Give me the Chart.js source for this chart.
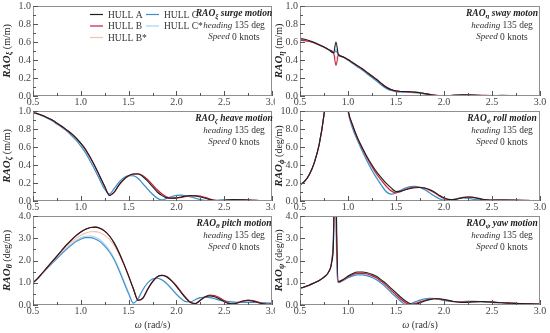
<!DOCTYPE html>
<html>
<head>
<meta charset="utf-8">
<script src="https://cdn.jsdelivr.net/npm/chart.js@4/dist/chart.umd.min.js"></script>
<style>
  body { margin: 0; background: #fff; width: 550px; height: 333px; position: relative; overflow: hidden; }
  canvas { position: absolute; }
</style>
</head>
<body>
<script>
const SERIF = '"Liberation Serif", "Times New Roman", serif';

const hullNames = ['HULL A', 'HULL B', 'HULL B*', 'HULL C', 'HULL C*'];
const hullColors = ['#1f1f1f', '#c3213d', '#f5c2a6', '#3f8fca', '#a7d2ee'];

// frequency grids (rad/s)
const omegaStd = [0.5,0.55,0.6,0.65,0.7,0.75,0.8,0.85,0.9,0.95,1.0,1.05,1.1,1.15,1.2,1.25,1.3,1.35,1.4,1.45,1.5,1.55,1.6,1.65,1.7,1.75,1.8,1.85,1.9,1.95,2.0,2.05,2.1,2.15,2.2,2.25,2.3,2.35,2.4,2.45,2.5,2.55,2.6,2.65,2.7,2.75,2.8,2.85,2.9,2.95,3.0];
const omegaSway = [0.5,0.55,0.6,0.65,0.7,0.75,0.8,0.85,0.875,0.9,0.95,1.0,1.05,1.1,1.15,1.2,1.25,1.3,1.35,1.4,1.45,1.5,1.55,1.6,1.65,1.7,1.75,1.8,1.85,1.9,1.95,2.0,2.1,2.2,2.3,2.4,2.5,2.6,2.7,2.8,2.9,3.0];
const omegaYaw = [0.5,0.55,0.6,0.65,0.7,0.75,0.8,0.83,0.85,0.86,0.87,0.88,0.9,0.95,1.0,1.05,1.1,1.15,1.2,1.25,1.3,1.35,1.4,1.45,1.5,1.55,1.6,1.65,1.7,1.75,1.8,1.85,1.9,1.95,2.0,2.1,2.2,2.3,2.4,2.5,2.6,2.7,2.8,2.9,3.0];

// surge panel shows no curves
const surgeOmega = [];
const surgeSeries = [[], [], [], [], []];

// sway RAO (m/m)
const swayA = [.64,.63,.615,.595,.57,.545,.515,.48,.60,.46,.435,.405,.37,.335,.3,.26,.22,.18,.135,.095,.07,.055,.05,.05,.047,.043,.037,.027,.017,.009,.005,.004,.008,.012,.01,.006,.005,.007,.006,.004,.003,.003];
const swayB = [.62,.615,.605,.59,.568,.543,.513,.478,.34,.455,.433,.403,.37,.337,.302,.263,.224,.184,.14,.1,.073,.057,.05,.048,.045,.042,.036,.028,.019,.011,.006,.004,.007,.011,.01,.007,.005,.006,.006,.004,.003,.003];
const swayBs = [.625,.618,.607,.591,.569,.544,.514,.479,.42,.457,.434,.404,.37,.336,.301,.262,.223,.182,.138,.098,.072,.056,.05,.049,.046,.042,.036,.028,.018,.01,.005,.004,.007,.011,.01,.007,.005,.006,.006,.004,.003,.003];
const swayC = [.63,.62,.607,.59,.567,.542,.512,.477,.5,.455,.43,.398,.36,.323,.287,.245,.205,.163,.12,.083,.06,.048,.044,.043,.04,.036,.03,.021,.012,.006,.003,.003,.007,.01,.008,.005,.004,.006,.005,.003,.002,.002];
const swayCs = [.632,.622,.609,.592,.569,.544,.514,.478,.52,.456,.431,.4,.363,.326,.29,.249,.209,.167,.124,.086,.062,.05,.045,.044,.041,.037,.031,.022,.013,.007,.003,.003,.007,.01,.008,.005,.004,.006,.005,.003,.002,.002];

// heave RAO (m/m)
const heaveA = [.98,.97,.95,.925,.9,.865,.83,.79,.75,.7,.64,.57,.48,.38,.27,.16,.06,.1,.18,.24,.28,.3,.3,.27,.22,.16,.1,.06,.035,.03,.035,.045,.055,.06,.055,.045,.03,.015,.006,.004,.008,.012,.015,.014,.012,.01,.008,.006,.005,.004,.003];
const heaveB = [.98,.97,.95,.925,.9,.866,.831,.792,.752,.702,.643,.573,.484,.384,.275,.165,.065,.098,.178,.238,.279,.3,.302,.282,.238,.182,.125,.078,.045,.032,.032,.04,.05,.058,.06,.054,.04,.023,.01,.004,.006,.011,.015,.015,.013,.011,.009,.007,.005,.004,.003];
const heaveBs = [.98,.97,.95,.924,.898,.864,.829,.79,.749,.699,.64,.57,.481,.381,.272,.162,.064,.097,.176,.236,.277,.298,.3,.28,.236,.18,.122,.076,.044,.032,.033,.041,.051,.058,.059,.053,.039,.022,.009,.004,.006,.011,.014,.014,.013,.011,.009,.007,.005,.004,.003];
const heaveC = [.98,.965,.945,.92,.89,.855,.82,.78,.73,.675,.61,.535,.44,.34,.23,.13,.08,.14,.21,.26,.28,.28,.25,.19,.13,.075,.03,.01,.03,.05,.063,.065,.058,.045,.03,.015,.006,.004,.006,.01,.013,.014,.013,.011,.009,.007,.006,.005,.004,.003,.003];
const heaveCs = [.98,.966,.946,.921,.892,.857,.822,.782,.733,.678,.614,.54,.446,.346,.236,.135,.078,.136,.207,.258,.279,.28,.252,.194,.135,.08,.034,.012,.028,.048,.061,.064,.058,.046,.031,.016,.007,.004,.006,.01,.013,.014,.013,.011,.009,.007,.006,.005,.004,.003,.003];

// roll RAO (deg/m)
const rollA = [1.8,2.2,3.0,4.3,6.3,9.6,15,24,24,15,10.2,8.4,7.0,5.9,4.9,4.0,3.2,2.55,1.95,1.45,1.05,1.1,1.25,1.38,1.47,1.5,1.45,1.28,1.0,.65,.35,.18,.15,.25,.38,.45,.42,.32,.2,.13,.1,.1,.11,.11,.1,.09,.08,.07,.06,.05,.05];
const rollB = [1.8,2.2,3.0,4.3,6.3,9.6,15,24,24,15,10.1,8.3,6.9,5.8,4.75,3.8,2.95,2.25,1.6,1.12,.92,1.05,1.3,1.47,1.55,1.53,1.42,1.2,.9,.55,.27,.13,.14,.27,.4,.45,.4,.28,.17,.11,.09,.1,.11,.1,.09,.08,.07,.06,.05,.05,.04];
const rollBs = [1.8,2.2,3.0,4.3,6.3,9.6,15,24,24,15,10.1,8.35,6.95,5.85,4.8,3.88,3.05,2.35,1.72,1.22,.95,1.05,1.28,1.45,1.53,1.52,1.43,1.22,.93,.58,.29,.14,.14,.26,.39,.45,.41,.3,.18,.12,.09,.1,.11,.1,.09,.08,.07,.06,.05,.05,.04];
const rollC = [1.8,2.2,3.0,4.3,6.3,9.6,15,24,24,15,10.0,8.0,6.7,5.5,4.4,3.4,2.5,1.7,1.0,.75,.9,1.2,1.45,1.6,1.62,1.5,1.25,.9,.55,.25,.1,.1,.2,.3,.35,.3,.2,.13,.09,.08,.09,.1,.1,.09,.08,.07,.06,.05,.05,.04,.04];
const rollCs = [1.8,2.2,3.0,4.3,6.3,9.6,15,24,24,15,10.0,8.1,6.8,5.6,4.5,3.5,2.6,1.8,1.1,.8,.9,1.18,1.43,1.58,1.6,1.5,1.27,.93,.58,.27,.11,.1,.19,.29,.34,.3,.21,.14,.09,.08,.09,.1,.1,.09,.08,.07,.06,.05,.05,.04,.04];

// pitch RAO (deg/m)
const pitchA = [1.0,1.2,1.45,1.7,1.95,2.2,2.45,2.7,2.92,3.12,3.28,3.4,3.48,3.5,3.45,3.32,3.1,2.78,2.35,1.85,1.3,.72,.2,.32,.72,1.05,1.27,1.33,1.26,1.08,.84,.56,.3,.1,.07,.22,.36,.41,.37,.27,.15,.06,.05,.12,.18,.2,.17,.11,.05,.03,.05];
const pitchB = [1.0,1.2,1.45,1.7,1.95,2.2,2.45,2.7,2.92,3.12,3.28,3.4,3.48,3.5,3.45,3.32,3.1,2.78,2.36,1.86,1.32,.74,.22,.3,.7,1.04,1.27,1.34,1.28,1.1,.87,.59,.33,.12,.06,.2,.37,.45,.43,.33,.2,.09,.05,.1,.18,.22,.2,.14,.07,.03,.04];
const pitchBs = [1.0,1.2,1.44,1.68,1.92,2.16,2.4,2.62,2.83,3.0,3.13,3.23,3.29,3.3,3.25,3.13,2.95,2.66,2.27,1.8,1.28,.73,.22,.3,.7,1.03,1.26,1.32,1.26,1.08,.85,.57,.31,.11,.07,.21,.36,.43,.4,.3,.18,.08,.05,.11,.18,.21,.18,.12,.06,.03,.04];
const pitchC = [1.0,1.2,1.42,1.65,1.87,2.08,2.3,2.5,2.68,2.85,2.96,3.03,3.03,2.97,2.85,2.65,2.38,2.02,1.55,1.02,.5,.08,.3,.7,1.0,1.17,1.2,1.12,.95,.72,.48,.28,.15,.15,.25,.33,.35,.33,.28,.22,.18,.15,.13,.12,.12,.12,.12,.11,.1,.09,.08];
const pitchCs = [1.0,1.2,1.43,1.66,1.89,2.11,2.33,2.54,2.73,2.9,3.02,3.09,3.1,3.05,2.93,2.73,2.46,2.1,1.63,1.1,.57,.1,.27,.68,.99,1.17,1.21,1.14,.98,.75,.51,.3,.16,.14,.24,.33,.36,.34,.29,.23,.18,.15,.13,.12,.12,.12,.12,.11,.1,.09,.08];

// yaw RAO (deg/m)
const yawA = [.75,.82,.9,1.0,1.1,1.25,1.5,1.9,3.0,6.0,8.0,4.0,1.05,1.15,1.3,1.42,1.48,1.48,1.45,1.38,1.28,1.12,.95,.75,.55,.35,.18,.06,.03,.1,.18,.24,.28,.28,.25,.16,.12,.14,.15,.13,.1,.08,.06,.05,.04];
const yawB = [.75,.82,.9,1.0,1.1,1.25,1.5,1.95,3.2,6.5,7,3.2,1.02,1.12,1.27,1.37,1.42,1.42,1.39,1.32,1.21,1.05,.87,.66,.45,.26,.1,.02,.07,.14,.21,.26,.28,.27,.23,.16,.13,.15,.16,.14,.11,.09,.07,.05,.04];
const yawBs = [.75,.82,.9,1.0,1.1,1.25,1.5,1.95,3.2,6.5,7,3.2,1.03,1.13,1.28,1.39,1.44,1.44,1.41,1.34,1.23,1.07,.89,.68,.47,.28,.11,.02,.06,.13,.2,.26,.28,.27,.24,.16,.13,.15,.16,.14,.11,.09,.07,.05,.04];
const yawC = [.74,.81,.89,.99,1.1,1.25,1.5,2.0,3.5,7,6,2.5,1.0,1.1,1.22,1.31,1.35,1.35,1.31,1.24,1.12,.96,.77,.56,.35,.16,.03,.06,.14,.22,.28,.3,.29,.25,.2,.15,.16,.17,.15,.12,.1,.08,.06,.05,.04];
const yawCs = [.74,.81,.89,.99,1.1,1.25,1.5,2.0,3.5,7,6,2.5,1.01,1.11,1.24,1.33,1.37,1.37,1.33,1.26,1.14,.98,.79,.58,.37,.18,.04,.05,.13,.21,.27,.3,.29,.26,.21,.15,.16,.17,.15,.12,.1,.08,.06,.05,.04];

const panels = [
  { left: 0,   top: 0,   h: 110, yw: 33, pr: 3,  xh: 14, tx: 7, max: 1,  step: 0.2, minor: 0.1, sub: 'ξ', unit: '(m/m)',   name: ' surge motion', omega: surgeOmega, series: surgeSeries, legend: true },
  { left: 275, top: 0,   h: 110, yw: 25, pr: 10, xh: 14, tx: 4, max: 1,  step: 0.2, minor: 0.1, sub: 'η', unit: '(m/m)',   name: ' sway moton',   omega: omegaSway, series: [swayA, swayB, swayBs, swayC, swayCs] },
  { left: 0,   top: 105, h: 110, yw: 33, pr: 3,  xh: 14, tx: 7, max: 1,  step: 0.2, minor: 0.1, sub: 'ζ', unit: '(m/m)',   name: ' heave motion', omega: omegaStd, series: [heaveA, heaveB, heaveBs, heaveC, heaveCs] },
  { left: 275, top: 105, h: 110, yw: 25, pr: 10, xh: 14, tx: 4, max: 10, step: 2,   minor: 1,   sub: 'ϕ', unit: '(deg/m)', name: ' roll motion',  omega: omegaStd, series: [rollA, rollB, rollBs, rollC, rollCs] },
  { left: 0,   top: 210, h: 123, yw: 33, pr: 3,  xh: 28, tx: 7, max: 4,  step: 1,   minor: 0.5, sub: 'θ', unit: '(deg/m)', name: ' pitch motion', omega: omegaStd, series: [pitchA, pitchB, pitchBs, pitchC, pitchCs], xTitle: true },
  { left: 275, top: 210, h: 123, yw: 25, pr: 10, xh: 28, tx: 4, max: 4,  step: 1,   minor: 0.5, sub: 'ψ', unit: '(deg/m)', name: ' yaw motion',   omega: omegaYaw, series: [yawA, yawB, yawBs, yawC, yawCs], xTitle: true }
];

function runsWidth(ctx, runs) {
    let w = 0;
    runs.forEach(r => { ctx.font = r.f + ' ' + SERIF; w += ctx.measureText(r.t).width; });
    return w;
}

function drawRuns(ctx, runs, x, y) {
    runs.forEach(r => {
        ctx.font = r.f + ' ' + SERIF;
        ctx.fillText(r.t, x, y + (r.dy || 0));
        x += ctx.measureText(r.t).width;
    });
}

function drawCentered(ctx, runs, cx, y) {
    drawRuns(ctx, runs, cx - runsWidth(ctx, runs) / 2, y);
}

const decor = {
    id: 'decor',
    afterDatasetsDraw(chart, args, opts) {
        const ctx = chart.ctx;
        const a = chart.chartArea;
        const xs = chart.scales.x, ys = chart.scales.y;
        ctx.save();

        // frame
        ctx.strokeStyle = '#8f8f8f';
        ctx.lineWidth = 1;
        ctx.strokeRect(a.left + 0.5, a.top + 0.5, a.right - a.left - 1, a.bottom - a.top - 1);

        // inside tick marks
        ctx.strokeStyle = '#555';
        ctx.beginPath();
        for (let i = 0; i <= 10; i++) {
            const px = Math.round(xs.getPixelForValue(0.5 + i * 0.25)) + 0.5;
            const len = i % 2 ? 3 : 5;
            ctx.moveTo(px, a.bottom);
            ctx.lineTo(px, a.bottom - len);
        }
        const n = Math.round(ys.max / opts.minor);
        for (let i = 0; i <= n; i++) {
            const py = Math.round(ys.getPixelForValue(i * opts.minor)) + 0.5;
            const len = i % 2 ? 3 : 5;
            ctx.moveTo(a.left, py);
            ctx.lineTo(a.left + len, py);
        }
        ctx.stroke();

        ctx.textBaseline = 'middle';
        ctx.textAlign = 'left';

        // y axis title
        ctx.fillStyle = '#222';
        ctx.save();
        ctx.translate(opts.tx, (a.top + a.bottom) / 2);
        ctx.rotate(-Math.PI / 2);
        drawCentered(ctx, [
            { t: 'RAO', f: 'italic bold 11px' },
            { t: opts.sub, f: 'italic bold 8px', dy: 3 },
            { t: ' ' + opts.unit, f: '10px' }
        ], 0, 0);
        ctx.restore();

        // panel caption
        const cx = a.right - 38;
        drawCentered(ctx, [
            { t: 'RAO', f: 'italic bold 9.5px' },
            { t: opts.sub, f: 'italic bold 7px', dy: 2.5 },
            { t: opts.name, f: 'italic bold 9.5px' }
        ], cx, a.top + 7.5);
        ctx.fillStyle = '#333';
        drawCentered(ctx, [{ t: 'heading', f: 'italic 9px' }, { t: ' 135 deg', f: '9.5px' }], cx, a.top + 19.5);
        drawCentered(ctx, [{ t: 'Speed', f: 'italic 9px' }, { t: ' 0 knots', f: '9.5px' }], cx, a.top + 31);

        // legend (two columns)
        if (opts.legend) {
            const cols = [90, 146];
            const rows = [14, 25.5, 37];
            chart.data.datasets.forEach((ds, i) => {
                const c = i < 3 ? 0 : 1;
                const r = i < 3 ? i : i - 3;
                const lx = cols[c], ly = rows[r];
                ctx.strokeStyle = ds.borderColor;
                ctx.lineWidth = 1.2;
                ctx.beginPath();
                ctx.moveTo(lx, ly + 0.5);
                ctx.lineTo(lx + 13, ly + 0.5);
                ctx.stroke();
                ctx.fillStyle = '#333';
                ctx.font = '9.5px ' + SERIF;
                ctx.fillText(ds.label, lx + 18, ly + 1);
            });
        }

        // x axis title
        if (opts.xTitle) {
            ctx.fillStyle = '#333';
            drawCentered(ctx, [{ t: 'ω', f: 'italic 10px' }, { t: ' (rad/s)', f: '10px' }], (a.left + a.right) / 2, 115);
        }
        ctx.restore();
    }
};

panels.forEach(p => {
    const canvas = document.createElement('canvas');
    canvas.width = 275;
    canvas.height = p.h;
    canvas.style.left = p.left + 'px';
    canvas.style.top = p.top + 'px';
    canvas.style.width = '275px';
    canvas.style.height = p.h + 'px';
    document.body.appendChild(canvas);

    new Chart(canvas.getContext('2d'), {
        type: 'line',
        data: {
            datasets: p.series.map((vals, i) => ({
                label: hullNames[i],
                data: p.omega.map((w, k) => ({ x: w, y: vals[k] })),
                borderColor: hullColors[i],
                borderWidth: 1.1,
                pointRadius: 0,
                fill: false,
                cubicInterpolationMode: 'monotone'
            }))
        },
        options: {
            responsive: false,
            animation: false,
            devicePixelRatio: 1,
            layout: { padding: { top: 6, right: p.pr, left: 0, bottom: 0 } },
            plugins: {
                legend: { display: false },
                tooltip: { enabled: false },
                decor: { sub: p.sub, unit: p.unit, name: p.name, minor: p.minor, tx: p.tx, legend: !!p.legend, xTitle: !!p.xTitle }
            },
            scales: {
                x: {
                    type: 'linear',
                    min: 0.5,
                    max: 3.0,
                    grid: { display: false, drawTicks: false },
                    border: { display: false },
                    ticks: {
                        stepSize: 0.5,
                        autoSkip: false,
                        maxRotation: 0,
                        padding: 0,
                        color: '#444',
                        font: { family: SERIF, size: 10 },
                        callback: v => v.toFixed(1)
                    },
                    afterFit: s => { s.height = p.xh; s.paddingLeft = 0; s.paddingRight = 0; }
                },
                y: {
                    min: 0,
                    max: p.max,
                    grid: { display: false, drawTicks: false },
                    border: { display: false },
                    ticks: {
                        stepSize: p.step,
                        padding: 2,
                        color: '#444',
                        font: { family: SERIF, size: 10 },
                        callback: v => v.toFixed(1)
                    },
                    afterFit: s => { s.width = p.yw; s.paddingTop = 0; s.paddingBottom = 0; }
                }
            }
        },
        plugins: [decor]
    });
});
</script>
</body>
</html>
